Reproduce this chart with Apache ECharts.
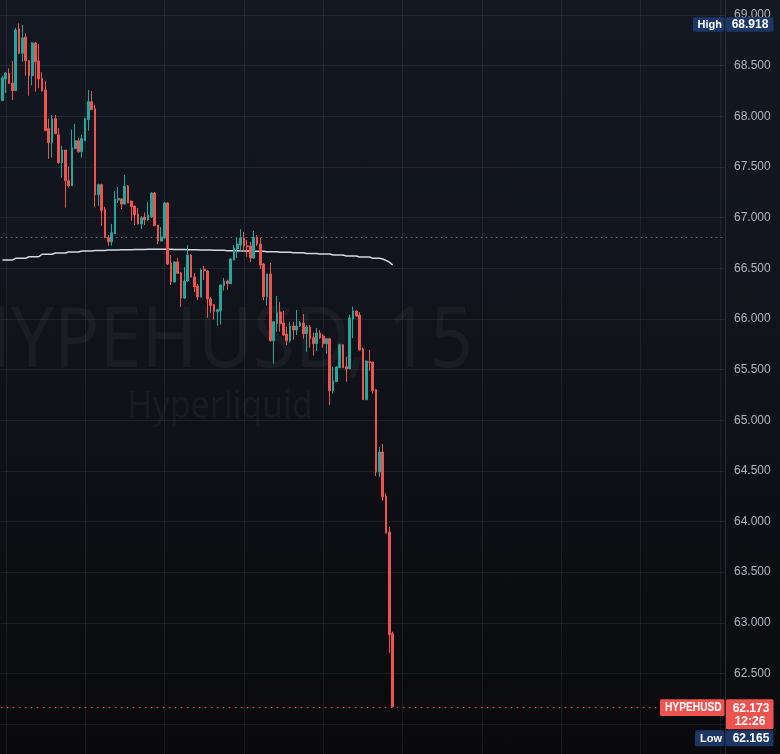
<!DOCTYPE html>
<html>
<head>
<meta charset="utf-8">
<script src="https://cdn.jsdelivr.net/npm/echarts@6/dist/echarts.min.js"></script>
<style>
html,body{margin:0;padding:0;background:#0a0a0c;}
#c{width:780px;height:754px;background:linear-gradient(to bottom,#141823 0%,#10131a 45%,#0a0a0c 100%);}
</style>
</head>
<body>
<div id="c"></div>
<script>
// ---- data (15-minute candles, HYPEHUSD) ----
const opens = [68.154,68.368,68.427,68.329,68.253,68.862,68.622,68.783,68.549,68.401,
68.724,68.546,68.375,68.260,67.878,67.739,67.976,67.818,67.542,67.667,
67.364,67.315,67.680,67.759,67.650,67.759,67.966,68.144,68.075,67.226,
67.325,67.078,66.801,66.762,66.841,67.174,67.184,67.134,67.312,67.164,
67.114,67.035,66.937,67.006,66.976,67.006,67.243,66.927,66.769,66.799,
67.144,66.552,66.364,66.562,66.453,66.206,66.374,66.631,66.414,66.325,
66.216,66.490,66.473,66.196,66.140,66.071,66.081,66.328,66.374,66.347,
66.581,66.690,66.729,66.799,66.720,66.720,66.601,66.805,66.739,66.542,
66.219,66.443,65.785,65.953,66.068,65.959,65.851,65.785,65.930,65.890,
65.930,65.959,65.854,65.920,65.814,65.755,65.861,65.831,65.755,65.804,
65.291,65.380,65.518,65.745,65.528,65.508,65.999,66.078,66.038,65.703,
65.202,65.577,65.574,65.301,64.489,64.686,64.251,63.896,62.892];
const closes = [68.381,68.427,68.322,68.253,68.852,68.622,68.773,68.549,68.401,68.724,
68.539,68.368,68.253,67.858,67.739,67.976,67.828,67.542,67.667,67.364,
67.315,67.690,67.759,67.650,67.779,67.976,68.144,68.065,67.226,67.325,
67.068,66.801,66.762,66.851,67.184,67.188,67.134,67.312,67.144,67.107,
67.026,66.937,66.996,66.976,67.026,67.243,66.920,66.769,66.808,67.144,
66.542,66.364,66.562,66.450,66.206,66.374,66.631,66.414,66.315,66.216,
66.483,66.476,66.196,66.130,66.071,66.091,66.335,66.374,66.347,66.591,
66.700,66.739,66.799,66.720,66.713,66.601,66.805,66.739,66.532,66.219,
66.443,65.785,65.972,66.061,65.953,65.841,65.785,65.930,65.890,65.930,
65.962,65.854,65.920,65.804,65.755,65.861,65.814,65.755,65.804,65.291,
65.390,65.525,65.745,65.518,65.508,66.009,66.078,66.028,65.693,65.202,
65.584,65.571,65.291,64.489,64.686,64.242,63.886,62.882,62.173];
const lows = [68.151,68.230,68.319,68.161,68.250,68.615,68.539,68.401,68.203,68.306,
68.243,68.279,68.243,67.855,67.581,67.591,67.825,67.532,67.394,67.098,
67.295,67.312,67.677,67.641,67.591,67.756,67.858,68.062,67.107,67.117,
66.920,66.798,66.723,66.723,66.838,67.144,67.085,67.124,67.141,66.969,
66.927,66.932,66.887,66.927,66.971,66.996,66.917,66.739,66.764,66.794,
66.532,66.335,66.359,66.443,66.117,66.196,66.364,66.404,66.265,66.186,
66.211,66.384,66.012,66.061,65.992,65.933,65.943,66.278,66.288,66.344,
66.576,66.601,66.660,66.660,66.614,66.562,66.596,66.720,66.495,66.186,
66.130,65.775,65.558,65.874,65.874,65.831,65.742,65.765,65.795,65.841,
65.920,65.804,65.676,65.716,65.637,65.683,65.801,65.716,65.656,65.150,
65.262,65.377,65.515,65.515,65.380,65.505,65.811,66.023,65.688,65.199,
65.199,65.486,65.262,64.449,64.439,64.202,63.881,62.705,62.165];
const highs = [68.398,68.437,68.474,68.546,68.872,68.918,68.901,68.819,68.556,68.733,
68.733,68.714,68.434,68.348,67.976,68.013,68.013,67.884,67.710,67.667,
67.502,67.868,67.927,67.789,67.818,67.986,68.260,68.250,68.114,67.335,
67.335,67.107,66.828,66.937,67.262,67.302,67.193,67.420,67.322,67.164,
67.114,67.095,67.016,67.050,67.154,67.253,67.253,66.927,66.907,67.154,
67.149,66.631,66.571,66.601,66.463,66.512,66.729,66.641,66.453,66.345,
66.496,66.522,66.483,66.216,66.147,66.101,66.340,66.404,66.387,66.601,
66.729,66.802,66.887,66.858,66.779,66.759,66.868,66.828,66.799,66.552,
66.446,66.552,65.980,66.226,66.167,66.078,65.923,65.972,65.972,66.088,
65.979,66.048,65.940,65.940,65.864,65.910,65.890,65.851,65.814,65.814,
65.528,65.535,65.755,65.752,65.627,66.041,66.120,66.083,66.068,65.716,
65.589,65.693,65.579,65.308,64.735,64.765,64.281,63.946,62.912];
// white moving-average style line
const maLine = [66.581,66.581,66.581,66.581,66.598,66.598,66.598,66.598,66.614,66.614,
66.614,66.614,66.638,66.638,66.638,66.638,66.651,66.651,66.651,66.651,
66.661,66.661,66.661,66.661,66.670,66.670,66.670,66.670,66.675,66.675,
66.675,66.675,66.680,66.680,66.680,66.680,66.683,66.683,66.683,66.683,
66.685,66.685,66.685,66.685,66.687,66.687,66.687,66.687,66.687,66.687,
66.687,66.687,66.685,66.685,66.685,66.685,66.683,66.683,66.683,66.683,
66.680,66.680,66.680,66.680,66.677,66.677,66.677,66.677,66.673,66.673,
66.673,66.673,66.670,66.670,66.670,66.670,66.667,66.667,66.667,66.667,
66.663,66.663,66.663,66.663,66.657,66.657,66.657,66.657,66.653,66.653,
66.653,66.653,66.646,66.646,66.646,66.646,66.641,66.641,66.641,66.641,
66.631,66.631,66.631,66.631,66.621,66.621,66.621,66.621,66.611,66.611,
66.611,66.611,66.598,66.598,66.598,66.591,66.578,66.560,66.532];

const symbolName = 'HYPEHUSD';
const exchangeName = 'Hyperliquid';
const resolution = '15';
const highValue = 68.918;
const lowValue = 62.165;
const lastPrice = 62.173;
const countdown = '12:26';
const refLevel = 66.805;
const yMin = 61.5, yMax = 69.5, yStep = 0.5;

// ---- layout ----
const W = 780, H = 754;
const GRID_LEFT = 0.8, GRID_RIGHT = 55;
const N_SLOTS = 219;
const gridSlots = [1,25,49,73,97,121,145,169,193,217];
const slotNames = [];
for (let i = 0; i < N_SLOTS; i++) slotNames.push('t' + i);

const candleData = opens.map((o, i) => [o, closes[i], lows[i], highs[i]]);

const UP = '#26a69a', DOWN = '#ef5350';
const GRID_COLOR = 'rgba(255,255,255,0.065)';
const NAVY = '#1c3766';
const FONT = '"Liberation Sans", Arial, sans-serif';

const chart = echarts.init(document.getElementById('c'), null, {renderer: 'canvas', width: W, height: H});

chart.setOption({
  backgroundColor: 'transparent',
  animation: false,
  grid: {left: GRID_LEFT, right: GRID_RIGHT, top: -35.65, bottom: -20.75, containLabel: false, outerBoundsMode: 'none'},
  xAxis: {
    type: 'category', data: slotNames, boundaryGap: true, show: false,
    axisLine: {show: false}, axisTick: {show: false}, axisLabel: {show: false}, splitLine: {show: false}
  },
  yAxis: {
    type: 'value', position: 'right', min: yMin, max: yMax, interval: yStep, scale: true,
    axisLine: {show: true, lineStyle: {color: '#2a2e39', width: 1}},
    axisTick: {show: false},
    axisLabel: {color: '#b2b5be', fontSize: 12, fontFamily: FONT, margin: 9,
      formatter: v => v.toFixed(3)},
    splitLine: {show: true, lineStyle: {color: GRID_COLOR, width: 1}}
  },
  series: [
    {
      type: 'line', name: 'MA', data: maLine, z: 2, silent: true,
      showSymbol: false, symbol: 'none',
      lineStyle: {color: '#d6d8de', width: 1.5},
      markLine: {
        silent: true, z: 1, symbol: ['none', 'none'], label: {show: false}, animation: false,
        data: gridSlots.map(s => ({xAxis: s, lineStyle: {color: GRID_COLOR, width: 1, type: 'solid'}}))
          .concat([
            {yAxis: refLevel, lineStyle: {color: '#6a6d78', width: 1, type: [1.5, 3.5]}},
            {yAxis: lastPrice, lineStyle: {color: DOWN, width: 1, type: [1.5, 4.5]}}
          ])
      }
    },
    {
      type: 'candlestick', name: symbolName, data: candleData, z: 3, silent: true,
      barWidth: 2.2,
      itemStyle: {color: UP, color0: DOWN, borderColor: UP, borderColor0: DOWN, borderWidth: 1}
    }
  ]
});

// ---- overlays: watermark + price-scale badges (positions from the axis scale) ----
const yOf = v => chart.convertToPixel({yAxisIndex: 0}, v);
const axisX = W - GRID_RIGHT;
const yH = yOf(highValue), yP = yOf(lastPrice);
const pTop = yP - 7.3;
const lTop = pTop + 31;

function txt(text, x, y, font, fill, align, extra) {
  return Object.assign({
    type: 'text', z: 100, silent: true, x: x, y: y,
    style: {text: text, x: 0, y: 0, font: font, fill: fill,
      align: align, textAlign: align, verticalAlign: 'middle', textVerticalAlign: 'middle'}
  }, extra || {});
}
function box(x, y, w, h, fill) {
  return {type: 'rect', z: 99, silent: true, shape: {x: x, y: y, width: w, height: h, r: 1.5}, style: {fill: fill}};
}

chart.setOption({
  graphic: [
    // watermark
    {type: 'text', z: 0, silent: true, x: 214, y: 343, scaleX: 0.9, originX: 0, originY: 0,
     style: {text: symbolName + ', ' + resolution, x: 0, y: 0, font: '84px "Noto Sans"', fill: 'rgba(255,255,255,0.045)',
       align: 'center', textAlign: 'center', verticalAlign: 'middle', textVerticalAlign: 'middle'}},
    {type: 'text', z: 0, silent: true, x: 220, y: 407, scaleX: 0.87, originX: 0, originY: 0,
     style: {text: exchangeName, x: 0, y: 0, font: '39px "Noto Sans"', fill: 'rgba(255,255,255,0.045)',
       align: 'center', textAlign: 'center', verticalAlign: 'middle', textVerticalAlign: 'middle'}},
    // High badge
    box(693, yH - 6, axisX - 693 - 0.5, 14.5, NAVY),
    box(axisX + 1, yH - 6, 47.5, 14.5, NAVY),
    txt('High', 697.5, yH + 1.3, 'bold 11px ' + FONT, '#ffffff', 'left'),
    txt(highValue.toFixed(3), 750, yH + 1.3, 'bold 12px ' + FONT, '#ffffff', 'center'),
    // last price badge
    box(660, pTop, axisX - 660 - 0.5, 16.7, DOWN),
    box(axisX + 1, pTop, 47.5, 30, DOWN),
    txt(symbolName, 665, pTop + 8.6, 'bold 12px ' + FONT, '#ffffff', 'left', {scaleX: 0.85, originX: 0}),
    txt(lastPrice.toFixed(3), 751, pTop + 9, 'bold 12px ' + FONT, '#ffffff', 'center'),
    txt(countdown, 750, pTop + 22.5, 'bold 12px ' + FONT, '#ffffff', 'center'),
    // Low badge
    box(695, lTop, axisX - 695 - 0.5, 16, NAVY),
    box(axisX + 1, lTop, 47.5, 16, NAVY),
    txt('Low', 700, lTop + 8.3, 'bold 11px ' + FONT, '#ffffff', 'left'),
    txt(lowValue.toFixed(3), 751, lTop + 8.3, 'bold 12px ' + FONT, '#ffffff', 'center')
  ]
});
</script>
</body>
</html>
